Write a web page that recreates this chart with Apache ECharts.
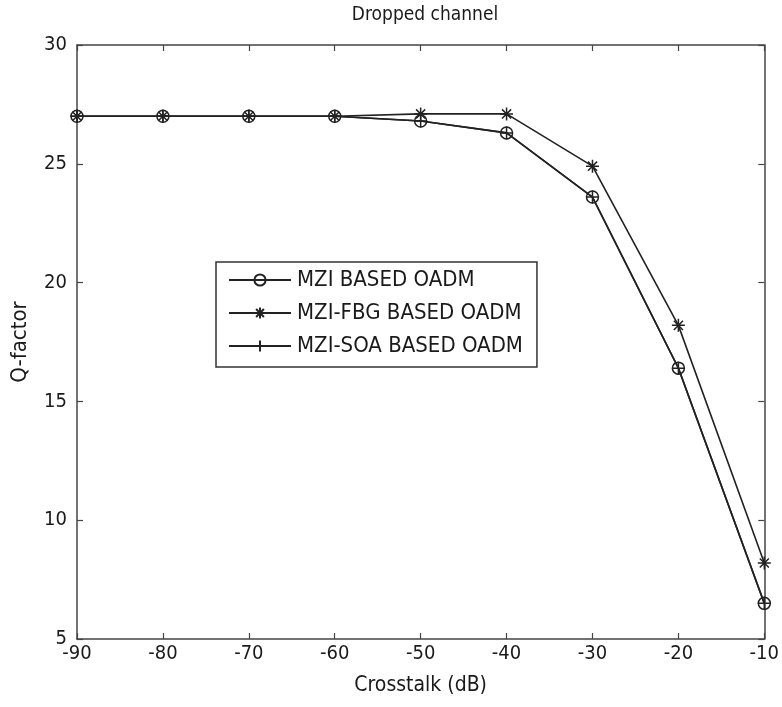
<!DOCTYPE html>
<html>
<head>
<meta charset="utf-8">
<script src="https://cdn.jsdelivr.net/npm/echarts@6/dist/echarts.min.js"></script>
<style>
html,body{margin:0;padding:0;background:#fff;}
#chart{width:782px;height:707px;}
</style>
</head>
<body>
<div id="chart"></div>
<script>
// Crosstalk values (dB) on the x axis
const crosstalk = [-90, -80, -70, -60, -50, -40, -30, -20, -10];
// Q-factor of the dropped channel for each OADM type
const qMZI    = [27, 27, 27, 27, 26.8, 26.3, 23.6, 16.4, 6.5];
const qMZIFBG = [27, 27, 27, 27, 27.1, 27.1, 24.9, 18.2, 8.2];
const qMZISOA = [27, 27, 27, 27, 26.8, 26.3, 23.6, 16.4, 6.5];
const seriesNames = ['MZI BASED OADM', 'MZI-FBG BASED OADM', 'MZI-SOA BASED OADM'];

const FONT = '"Liberation Sans Narrow", "DejaVu Sans Condensed", "Liberation Sans", sans-serif';
const INK = '#222';
const TEXT = '#1a1a1a';

const pairs = arr => crosstalk.map((x, i) => [x, arr[i]]);

const asterisk = 'path://M0,-10L0,10M-10,0L10,0M-7,-7L7,7M-7,7L7,-7';
const plus = 'path://M0,-10L0,10M-10,0L10,0';

const chart = echarts.init(document.getElementById('chart'));

const axisCommon = {
  axisLine: { show: true, lineStyle: { color: '#444', width: 1.5 } },
  axisTick: { show: true, inside: true, length: 6, lineStyle: { color: '#444', width: 1.2 } },
  splitLine: { show: false }
};

function lineSeries(name, data, symbol, size, z) {
  return {
    name, type: 'line', data: pairs(data), symbol, symbolSize: size, z,
    showAllSymbol: true,
    lineStyle: { color: INK, width: 1.6 },
    itemStyle: { color: symbol === 'circle' ? 'rgba(0,0,0,0)' : INK, borderColor: INK, borderWidth: 1.5 },
    emphasis: { disabled: true },
    animation: false
  };
}

chart.setOption({
  animation: false,
  backgroundColor: '#fff',
  title: {
    text: 'Dropped channel', left: 420, top: 1, textAlign: 'center',
    textStyle: { fontFamily: FONT, fontSize: 19, fontWeight: 'normal', color: TEXT }
  },
  grid: { left: 77, right: 13, top: 45, bottom: 68, containLabel: false },
  legend: {
    orient: 'vertical', left: 216, top: 262,
    data: seriesNames,
    itemWidth: 62, itemHeight: 14, itemGap: 11,
    padding: [7, 14, 10, 12],
    borderColor: '#333', borderWidth: 1.5, backgroundColor: '#fff',
    textStyle: { fontFamily: FONT, fontSize: 22, color: TEXT, padding: [0, 0, 0, 1] }
  },
  xAxis: [{
    type: 'value', min: -90, max: -10, interval: 10,
    name: 'Crosstalk (dB)', nameLocation: 'middle', nameGap: 36,
    nameTextStyle: { fontFamily: FONT, fontSize: 21, color: TEXT },
    axisLabel: { fontFamily: FONT, fontSize: 20, color: TEXT, margin: 5 },
    ...axisCommon
  }, {
    type: 'value', position: 'top', min: -90, max: -10, interval: 10,
    axisLabel: { show: false }, ...axisCommon
  }],
  yAxis: [{
    type: 'value', min: 5, max: 30, interval: 5,
    name: 'Q-factor', nameLocation: 'middle', nameGap: 46,
    nameTextStyle: { fontFamily: FONT, fontSize: 22, color: TEXT },
    axisLabel: { fontFamily: FONT, fontSize: 20, color: TEXT, margin: 10 },
    ...axisCommon
  }, {
    type: 'value', position: 'right', min: 5, max: 30, interval: 5,
    axisLabel: { show: false }, ...axisCommon
  }],
  series: [
    lineSeries(seriesNames[0], qMZI, 'circle', 12, 3),
    lineSeries(seriesNames[1], qMZIFBG, asterisk, 13, 4),
    lineSeries(seriesNames[2], qMZISOA, plus, 13, 5)
  ]
});
</script>
</body>
</html>
